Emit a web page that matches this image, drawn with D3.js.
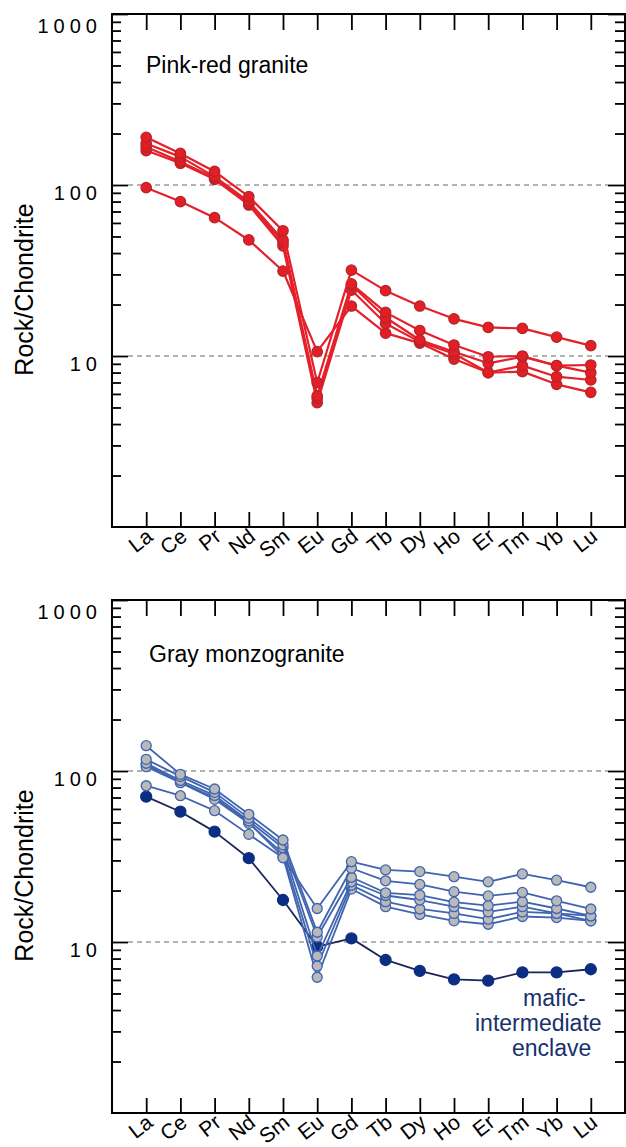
<!DOCTYPE html>
<html><head><meta charset="utf-8">
<script src="https://cdn.jsdelivr.net/npm/d3@7"></script>
<style>body{margin:0;background:#fff} svg{display:block}</style>
</head><body>
<svg id="c" width="626" height="1147"></svg>
<script>
// ---------- data ----------
const elements = ["La","Ce","Pr","Nd","Sm","Eu","Gd","Tb","Dy","Ho","Er","Tm","Yb","Lu"];
const yMajorTicks = [10, 100, 1000];
const yTickLabels = ["10", "100", "1000"];
const yAxisTitle = "Rock/Chondrite";

// Pink-red granite (top panel)
const pinkA = [190, 153, 120, 85.5, 54, 6.98, 31.8, 24.1, 19.6, 16.5, 14.7, 14.5, 12.9, 11.5];
const pinkB = [175, 146, 112, 80, 47.7, 5.84, 26.4, 18.0, 14.1, 11.6, 9.9, 10.0, 8.78, 8.86];
const pinkC = [167, 137, 110, 78, 46, 5.66, 26.0, 16.8, 12.4, 10.6, 9.06, 9.9, 8.78, 7.99];
const pinkD = [159, 134, 108, 76.4, 44, 5.33, 24.3, 15.5, 12.1, 10.3, 8.0, 8.78, 7.57, 7.24];
const pinkE = [96.5, 80, 64.4, 47.7, 31.4, 10.6, 19.6, 13.6, 11.9, 9.6, 8.0, 8.1, 6.83, 6.13];

// Gray monzogranite (bottom panel)
const grayA = [82, 71.7, 58.6, 42.6, 31.1, 15.7, 29.5, 26.4, 25.8, 24.1, 22.5, 25.0, 23.0, 20.9];
const grayB = [140.6, 95.6, 78.5, 55.8, 39.5, 11.4, 27.0, 22.8, 21.7, 19.7, 18.6, 19.5, 17.4, 15.6];
const grayC = [117, 93, 75, 53, 37, 10.7, 23.9, 19.4, 18.8, 17.1, 16.3, 17.2, 15.7, 14.2];
const grayD = [111, 88, 72, 51, 35.6, 8.28, 22.5, 18.7, 17.6, 16.1, 15.0, 16.1, 14.7, 14.2];
const grayE = [106, 85.5, 68.3, 49.4, 33, 7.24, 21.5, 17.2, 15.6, 14.7, 13.6, 15.0, 14.7, 13.3];
const grayF = [109, 86, 70, 50, 31.5, 6.22, 20.4, 16.1, 14.5, 13.3, 12.7, 14.1, 13.9, 13.3];
// mafic-intermediate enclave
const enclave = [70.8, 57.8, 44.2, 30.9, 17.6, 9.39, 10.5, 7.85, 6.77, 6.05, 5.94, 6.65, 6.65, 6.93];

const panelTitles = ["Pink-red granite", "Gray monzogranite"];
const enclaveLabel = ["mafic-", "intermediate", "enclave"];

// ---------- drawing ----------
const svg = d3.select("#c");
const FONT = "'Liberation Sans', Arial, Helvetica, sans-serif";
const L = 112, R = 625;

const x = d3.scalePoint().domain(elements).range([L, R]).padding(1);

const minorTicks = [];
[1, 10, 100].forEach(d => { for (let m = 2; m <= 9; m++) minorTicks.push(d * m); });

const panels = [
  { top: 14, bottom: 527, title: panelTitles[0], titleX: 146, titleY: 73 },
  { top: 600, bottom: 1113, title: panelTitles[1], titleX: 149, titleY: 662 }
];

panels.forEach((p, i) => {
  const g = svg.append("g");
  const y = d3.scaleLog().domain([1, 1000]).range([p.bottom, p.top]);
  p.y = y; p.g = g;

  // dashed reference lines
  g.selectAll("line.grid").data([10, 100]).join("line")
    .attr("x1", L + 16).attr("x2", R - 17)
    .attr("y1", d => y(d)).attr("y2", d => y(d))
    .attr("stroke", "#666").attr("stroke-width", 1.2).attr("stroke-dasharray", "5,4");

  // ticks (inward)
  const lMinor = g.append("g").attr("transform", `translate(${L},0)`)
    .call(d3.axisLeft(y).tickValues(minorTicks).tickSize(-9).tickSizeOuter(0).tickFormat(""));
  const lMajor = g.append("g").attr("transform", `translate(${L},0)`)
    .call(d3.axisLeft(y).tickValues(yMajorTicks).tickSize(-16).tickSizeOuter(0).tickFormat(""));
  const rMinor = g.append("g").attr("transform", `translate(${R},0)`)
    .call(d3.axisRight(y).tickValues(minorTicks).tickSize(-10).tickSizeOuter(0).tickFormat(""));
  const rMajor = g.append("g").attr("transform", `translate(${R},0)`)
    .call(d3.axisRight(y).tickValues(yMajorTicks).tickSize(-17).tickSizeOuter(0).tickFormat(""));
  const bAx = g.append("g").attr("transform", `translate(0,${p.bottom})`)
    .call(d3.axisBottom(x).tickSize(-15).tickSizeOuter(0).tickFormat(""));
  const tAx = g.append("g").attr("transform", `translate(0,${p.top})`)
    .call(d3.axisTop(x).tickSize(-16).tickSizeOuter(0).tickFormat(""));
  [lMinor, lMajor, rMinor, rMajor, bAx, tAx].forEach(a => {
    a.select(".domain").remove();
    a.selectAll(".tick line").attr("stroke", "#000").attr("stroke-width", 1.8);
  });

  // frame
  g.append("rect").attr("x", L).attr("y", p.top).attr("width", R - L).attr("height", p.bottom - p.top)
    .attr("fill", "none").attr("stroke", "#000").attr("stroke-width", 2);

  // y tick labels
  g.selectAll("text.yl").data(yMajorTicks).join("text")
    .attr("x", L - 10)
    .attr("y", d => y(d) + (d === 1000 ? 19 : 15))
    .attr("text-anchor", "end")
    .attr("font-family", FONT).attr("font-size", 20).attr("letter-spacing", "5px")
    .attr("fill", "#000")
    .text((d, k) => yTickLabels[k]);

  // x tick labels (rotated)
  g.selectAll("text.xl").data(elements).join("text")
    .attr("transform", d => `translate(${x(d) + 8},${p.bottom + 12}) rotate(-38)`)
    .attr("text-anchor", "end")
    .attr("font-family", FONT).attr("font-size", 21).attr("fill", "#000")
    .text(d => d);

  // y axis title
  g.append("text")
    .attr("transform", `translate(33,${(p.top + p.bottom) / 2 + 19}) rotate(-90)`)
    .attr("text-anchor", "middle")
    .attr("font-family", FONT).attr("font-size", 25).attr("fill", "#000")
    .text(yAxisTitle);

  // panel title
  g.append("text").attr("x", p.titleX).attr("y", p.titleY)
    .attr("font-family", FONT).attr("font-size", 23).attr("fill", "#000")
    .text(p.title);
});

function drawSeries(p, values, lineColor, lineWidth, fill, stroke, r) {
  const line = d3.line().x((d, i) => x(elements[i])).y(d => p.y(d));
  p.g.append("path").datum(values).attr("d", line)
    .attr("fill", "none").attr("stroke", lineColor).attr("stroke-width", lineWidth)
    .attr("stroke-linejoin", "round");
  p.g.append("g").selectAll("circle").data(values).join("circle")
    .attr("cx", (d, i) => x(elements[i])).attr("cy", d => p.y(d)).attr("r", r)
    .attr("fill", fill).attr("stroke", stroke).attr("stroke-width", 1.3);
}

// top panel
[pinkE, pinkD, pinkC, pinkB, pinkA].forEach(s => drawSeries(panels[0], s, "#e6202a", 2.2, "#e31e24", "#b5262b", 5.2));

// bottom panel
drawSeries(panels[1], enclave, "#1b2656", 1.8, "#0c2e82", "#0c2e82", 5.5);
[grayF, grayE, grayD, grayC, grayB, grayA].forEach(s => drawSeries(panels[1], s, "#3f64b0", 1.8, "#b9b9b9", "#3f64b0", 5));

// enclave label
const encX = [523, 475, 512];
const encY = [1006, 1031, 1056];
svg.append("g").selectAll("text").data(enclaveLabel).join("text")
  .attr("x", (d, i) => encX[i]).attr("y", (d, i) => encY[i])
  .attr("font-family", FONT).attr("font-size", 23).attr("fill", "#17306e")
  .text(d => d);
</script>
</body></html>
